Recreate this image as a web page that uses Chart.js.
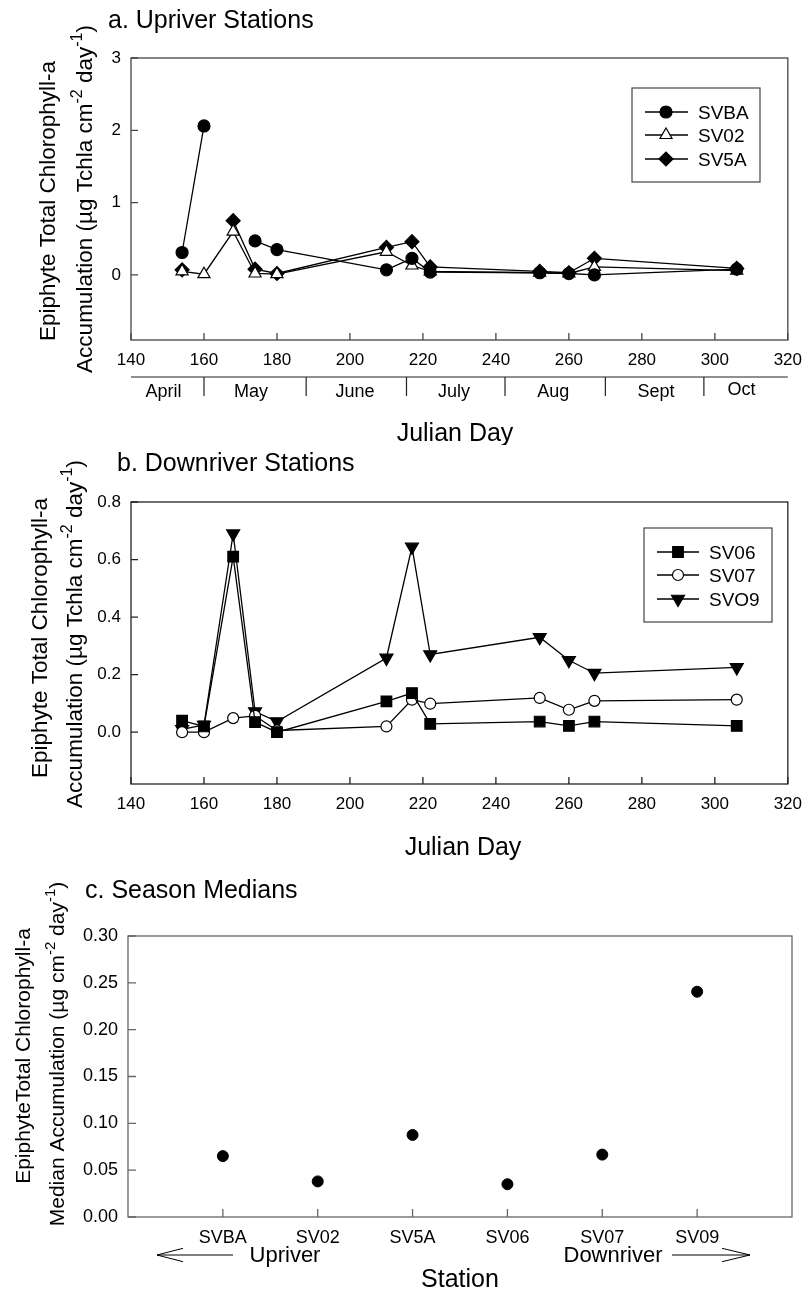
<!DOCTYPE html>
<html><head><meta charset="utf-8">
<script src="https://cdn.jsdelivr.net/npm/chart.js@4.4.1/dist/chart.umd.min.js"></script>
<style>
html,body{margin:0;padding:0;background:#fff;}
#wrap{position:relative;width:812px;height:1292px;overflow:hidden;background:#fff;}
canvas{position:absolute;left:0;}
</style></head><body>
<div id="wrap">
<canvas id="ca" width="812" height="445" style="top:0px"></canvas>
<canvas id="cb" width="812" height="420" style="top:445px"></canvas>
<canvas id="cc" width="812" height="427" style="top:865px"></canvas>
</div>
<script>
const FONT = '"Liberation Sans", Arial, Helvetica, sans-serif';

// ---------- DATA ----------
const julianDays = [154, 160, 168, 174, 180, 210, 217, 222, 252, 260, 267, 306];
// a. Upriver stations
const SVBA = [0.31, 2.06, null, 0.47, 0.35, 0.07, 0.23, 0.04, 0.03, 0.02, 0.00, 0.08];
const SV02 = [0.05, 0.01, 0.60, 0.02, 0.01, 0.32, 0.13, 0.05, 0.03, 0.02, 0.11, 0.06];
const SV5A = [0.07, null, 0.75, 0.08, 0.02, 0.38, 0.46, 0.11, 0.05, 0.03, 0.23, 0.09];
// b. Downriver stations
const SV06 = [0.040, 0.020, 0.610, 0.035, 0.000, 0.107, 0.136, 0.029, 0.037, 0.022, 0.037, 0.022];
const SV07 = [0.000, 0.000, 0.049, 0.057, 0.006, 0.020, 0.113, 0.099, 0.119, 0.078, 0.109, 0.113];
const SVO9 = [0.010, 0.025, 0.690, 0.072, 0.037, 0.258, 0.644, 0.270, 0.330, 0.250, 0.205, 0.225];
// c. Season medians
const stations = ['SVBA', 'SV02', 'SV5A', 'SV06', 'SV07', 'SV09'];
const stationMedians = [0.065, 0.038, 0.0876, 0.035, 0.0666, 0.2405];

// ticks / labels
const xTicksDay = [140, 160, 180, 200, 220, 240, 260, 280, 300, 320];
const yTicksA = [0, 1, 2, 3];
const yTicksB = [0, 0.2, 0.4, 0.6, 0.8];
const yTicksC = [0, 0.05, 0.10, 0.15, 0.20, 0.25, 0.30];
const stationPositions = [1, 2, 3, 4, 5, 6];
const monthNames = ['April', 'May', 'June', 'July', 'Aug', 'Sept', 'Oct'];
const monthLabelDays = [148.9, 172.9, 201.4, 228.5, 255.7, 283.9, 307.3];
const monthBoundaryDays = [160, 188, 215.5, 242.5, 270, 297];

// ---------- HELPERS ----------
Chart.defaults.font.family = FONT;
Chart.defaults.color = '#000';

function capText(ctx, str, x, capCenterY, size, align) {
  ctx.font = size + 'px ' + FONT;
  ctx.textAlign = align || 'left';
  ctx.textBaseline = 'alphabetic';
  ctx.fillStyle = '#000';
  ctx.fillText(str, x, capCenterY + 0.358 * size);
}

// rotated (-90deg) rich text with superscripts; baselineX = screen x of baseline, cy = center along text
function rotRich(ctx, parts, baselineX, cy, size) {
  const sup = Math.round(size * 0.7);
  ctx.save();
  ctx.translate(baselineX, cy);
  ctx.rotate(-Math.PI / 2);
  ctx.textBaseline = 'alphabetic';
  ctx.textAlign = 'left';
  ctx.fillStyle = '#000';
  let total = 0;
  parts.forEach(p => {
    ctx.font = (p.sup ? sup : size) + 'px ' + FONT;
    p.w = ctx.measureText(p.t).width;
    total += p.w;
  });
  let x = -total / 2;
  parts.forEach(p => {
    ctx.font = (p.sup ? sup : size) + 'px ' + FONT;
    ctx.fillText(p.t, x, p.sup ? -size * 0.42 : 0);
    x += p.w;
  });
  ctx.restore();
}

function drawMarker(ctx, style, r, rotDeg, x, y, fill) {
  const rad = (rotDeg || 0) * Math.PI / 180;
  ctx.beginPath();
  if (style === 'circle') {
    ctx.arc(x, y, r, 0, Math.PI * 2);
  } else if (style === 'triangle') {
    let a = rad;
    ctx.moveTo(x + Math.sin(a) * r, y - Math.cos(a) * r);
    a += 2 * Math.PI / 3;
    ctx.lineTo(x + Math.sin(a) * r, y - Math.cos(a) * r);
    a += 2 * Math.PI / 3;
    ctx.lineTo(x + Math.sin(a) * r, y - Math.cos(a) * r);
    ctx.closePath();
  } else if (style === 'rectRot') {
    ctx.moveTo(x - r, y); ctx.lineTo(x, y - r); ctx.lineTo(x + r, y); ctx.lineTo(x, y + r);
    ctx.closePath();
  } else if (style === 'rect') {
    const s = r * Math.SQRT1_2;
    ctx.rect(x - s, y - s, 2 * s, 2 * s);
  }
  ctx.fillStyle = fill;
  ctx.fill();
  ctx.lineWidth = 1.2;
  ctx.strokeStyle = '#000';
  ctx.stroke();
}

function drawLegend(chart, ctx, L) {
  ctx.lineWidth = 1.2;
  ctx.strokeStyle = '#444';
  ctx.strokeRect(L.x0, L.y0, L.x1 - L.x0, L.y1 - L.y0);
  chart.data.datasets.forEach((ds, i) => {
    const y = L.rows[i];
    ctx.beginPath();
    ctx.strokeStyle = '#000';
    ctx.lineWidth = 1.3;
    ctx.moveTo(L.lx0, y); ctx.lineTo(L.lx1, y);
    ctx.stroke();
    drawMarker(ctx, ds.pointStyle, ds.pointRadius, ds.pointRotation, L.mx, y, ds.pointBackgroundColor);
    capText(ctx, ds.label, L.tx, y, 19, 'left');
  });
}

function decoPlugin(cfg) {
  return {
    id: 'deco_' + cfg.name,
    afterDraw(chart) {
      const ctx = chart.ctx, a = chart.chartArea;
      ctx.save();
      ctx.strokeStyle = cfg.frame;
      ctx.lineWidth = 1.3;
      ctx.strokeRect(a.left, a.top, a.right - a.left, a.bottom - a.top);
      ctx.beginPath();
      const xs = chart.scales.x, ys = chart.scales.y;
      xs.ticks.forEach(t => { const px = xs.getPixelForValue(t.value); ctx.moveTo(px, a.bottom); ctx.lineTo(px, a.bottom - cfg.tickLen); });
      ys.ticks.forEach(t => { const py = ys.getPixelForValue(t.value); ctx.moveTo(a.left, py); ctx.lineTo(a.left + cfg.tickLen, py); });
      ctx.stroke();
      if (cfg.extra) cfg.extra(chart, ctx, a);
      ctx.restore();
    }
  };
}

function lineDataset(label, values, style, radius, rot, fill) {
  return {
    label: label,
    data: julianDays.map((d, i) => ({ x: d, y: values[i] })),
    borderColor: '#000',
    borderWidth: 1.3,
    pointStyle: style,
    pointRadius: radius,
    pointRotation: rot,
    pointBackgroundColor: fill,
    pointBorderColor: '#000',
    pointBorderWidth: 1.2,
    spanGaps: false,
    tension: 0,
    fill: false
  };
}

function dayScales(yMin, yMax, yTicks, yFmt, yWidth, xHeight) {
  return {
    x: {
      type: 'linear', min: 140, max: 320,
      afterBuildTicks: s => { s.ticks = xTicksDay.map(v => ({ value: v })); },
      ticks: { font: { size: 17 }, color: '#000', padding: 10, maxRotation: 0, autoSkip: false },
      grid: { display: false, drawTicks: false },
      border: { display: false },
      afterFit: s => { s.height = xHeight; }
    },
    y: {
      type: 'linear', min: yMin, max: yMax,
      afterBuildTicks: s => { s.ticks = yTicks.map(v => ({ value: v })); },
      ticks: { font: { size: 17 }, color: '#000', padding: 10, callback: yFmt },
      grid: { display: false, drawTicks: false },
      border: { display: false },
      afterFit: s => { s.width = yWidth; }
    }
  };
}

// ---------- CHART A ----------
new Chart(document.getElementById('ca'), {
  type: 'line',
  data: {
    datasets: [
      lineDataset('SVBA', SVBA, 'circle', 6, 0, '#000'),
      lineDataset('SV02', SV02, 'triangle', 7, 0, '#fff'),
      lineDataset('SV5A', SV5A, 'rectRot', 7, 0, '#000')
    ]
  },
  options: {
    responsive: false, animation: false,
    layout: { padding: { left: 0, top: 58, right: 18, bottom: 65 } },
    plugins: { legend: { display: false }, tooltip: { enabled: false } },
    scales: dayScales(-0.9, 3, yTicksA, v => String(v), 131, 40)
  },
  plugins: [decoPlugin({
    name: 'a', frame: '#444', tickLen: 7,
    extra: (chart, ctx, a) => {
      capText(ctx, 'a. Upriver Stations', 108, 19, 25, 'left');
      rotRich(ctx, [{ t: 'Epiphyte Total Chlorophyll-a' }], 55, 201, 22.5);
      rotRich(ctx, [{ t: 'Accumulation (\u00b5g Tchla cm' }, { t: '-2', sup: true }, { t: ' day' }, { t: '-1', sup: true }, { t: ')' }], 91.5, 199, 22.5);
      // month row
      const xs = chart.scales.x;
      ctx.strokeStyle = '#222'; ctx.lineWidth = 1.2;
      ctx.beginPath();
      ctx.moveTo(a.left, 377); ctx.lineTo(a.right, 377);
      monthBoundaryDays.forEach(d => { const px = xs.getPixelForValue(d); ctx.moveTo(px, 377); ctx.lineTo(px, 396); });
      ctx.stroke();
      monthNames.forEach((m, i) => capText(ctx, m, xs.getPixelForValue(monthLabelDays[i]), i === 6 ? 389 : 391, 18, 'center'));
      capText(ctx, 'Julian Day', 455, 432, 25, 'center');
      drawLegend(chart, ctx, { x0: 632, y0: 88, x1: 760, y1: 182, rows: [112, 135, 159], lx0: 645, lx1: 688, mx: 666, tx: 698 });
    }
  })]
});

// ---------- CHART B ----------
new Chart(document.getElementById('cb'), {
  type: 'line',
  data: {
    datasets: [
      lineDataset('SV06', SV06, 'rect', 7.5, 0, '#000'),
      lineDataset('SV07', SV07, 'circle', 5.5, 0, '#fff'),
      lineDataset('SVO9', SVO9, 'triangle', 7.5, 180, '#000')
    ]
  },
  options: {
    responsive: false, animation: false,
    layout: { padding: { left: 0, top: 57, right: 18, bottom: 41 } },
    plugins: { legend: { display: false }, tooltip: { enabled: false } },
    scales: dayScales(-0.18, 0.8, yTicksB, v => Number(v).toFixed(1), 131, 40)
  },
  plugins: [decoPlugin({
    name: 'b', frame: '#222', tickLen: 7,
    extra: (chart, ctx, a) => {
      capText(ctx, 'b. Downriver Stations', 117, 17, 25, 'left');
      rotRich(ctx, [{ t: 'Epiphyte Total Chlorophyll-a' }], 46.5, 193, 22.5);
      rotRich(ctx, [{ t: 'Accumulation (\u00b5g Tchla cm' }, { t: '-2', sup: true }, { t: ' day' }, { t: '-1', sup: true }, { t: ')' }], 81.5, 189, 22.5);
      capText(ctx, 'Julian Day', 463, 401, 25, 'center');
      drawLegend(chart, ctx, { x0: 644, y0: 83, x1: 772, y1: 177, rows: [107, 130, 154], lx0: 657, lx1: 699, mx: 678, tx: 709 });
    }
  })]
});

// ---------- CHART C ----------
new Chart(document.getElementById('cc'), {
  type: 'scatter',
  data: {
    datasets: [{
      label: 'Season median',
      data: stationPositions.map((p, i) => ({ x: p, y: stationMedians[i] })),
      pointStyle: 'circle', pointRadius: 5.5,
      pointBackgroundColor: '#000', pointBorderColor: '#000', pointBorderWidth: 1,
      showLine: false
    }]
  },
  options: {
    responsive: false, animation: false,
    layout: { padding: { left: 0, top: 71, right: 20, bottom: 35 } },
    plugins: { legend: { display: false }, tooltip: { enabled: false } },
    scales: {
      x: {
        type: 'linear', min: 0, max: 7,
        afterBuildTicks: s => { s.ticks = stationPositions.map(v => ({ value: v })); },
        ticks: { font: { size: 18 }, color: '#000', padding: 10, maxRotation: 0, autoSkip: false, callback: v => stations[v - 1] },
        grid: { display: false, drawTicks: false },
        border: { display: false },
        afterFit: s => { s.height = 40; }
      },
      y: {
        type: 'linear', min: 0, max: 0.3,
        afterBuildTicks: s => { s.ticks = yTicksC.map(v => ({ value: v })); },
        ticks: { font: { size: 18 }, color: '#000', padding: 10, callback: v => Number(v).toFixed(2) },
        grid: { display: false, drawTicks: false },
        border: { display: false },
        afterFit: s => { s.width = 128; }
      }
    }
  },
  plugins: [decoPlugin({
    name: 'c', frame: '#666', tickLen: 8,
    extra: (chart, ctx, a) => {
      capText(ctx, 'c. Season Medians', 85, 24.5, 25, 'left');
      rotRich(ctx, [{ t: 'EpiphyteTotal Chlorophyll-a' }], 30, 191, 21);
      rotRich(ctx, [{ t: 'Median Accumulation (\u00b5g cm' }, { t: '-2', sup: true }, { t: ' day' }, { t: '-1', sup: true }, { t: ')' }], 64, 189, 21);
      capText(ctx, 'Upriver', 285, 389, 22, 'center');
      capText(ctx, 'Downriver', 613, 389, 22, 'center');
      capText(ctx, 'Station', 460, 413, 25, 'center');
      ctx.strokeStyle = '#000'; ctx.lineWidth = 1;
      ctx.beginPath();
      ctx.moveTo(157, 390); ctx.lineTo(233, 390);
      ctx.moveTo(183, 383.3); ctx.lineTo(157, 390); ctx.lineTo(183, 396.7);
      ctx.moveTo(672, 390); ctx.lineTo(750, 390);
      ctx.moveTo(722, 383.3); ctx.lineTo(750, 390); ctx.lineTo(722, 396.7);
      ctx.stroke();
    }
  })]
});
</script>
</body></html>
